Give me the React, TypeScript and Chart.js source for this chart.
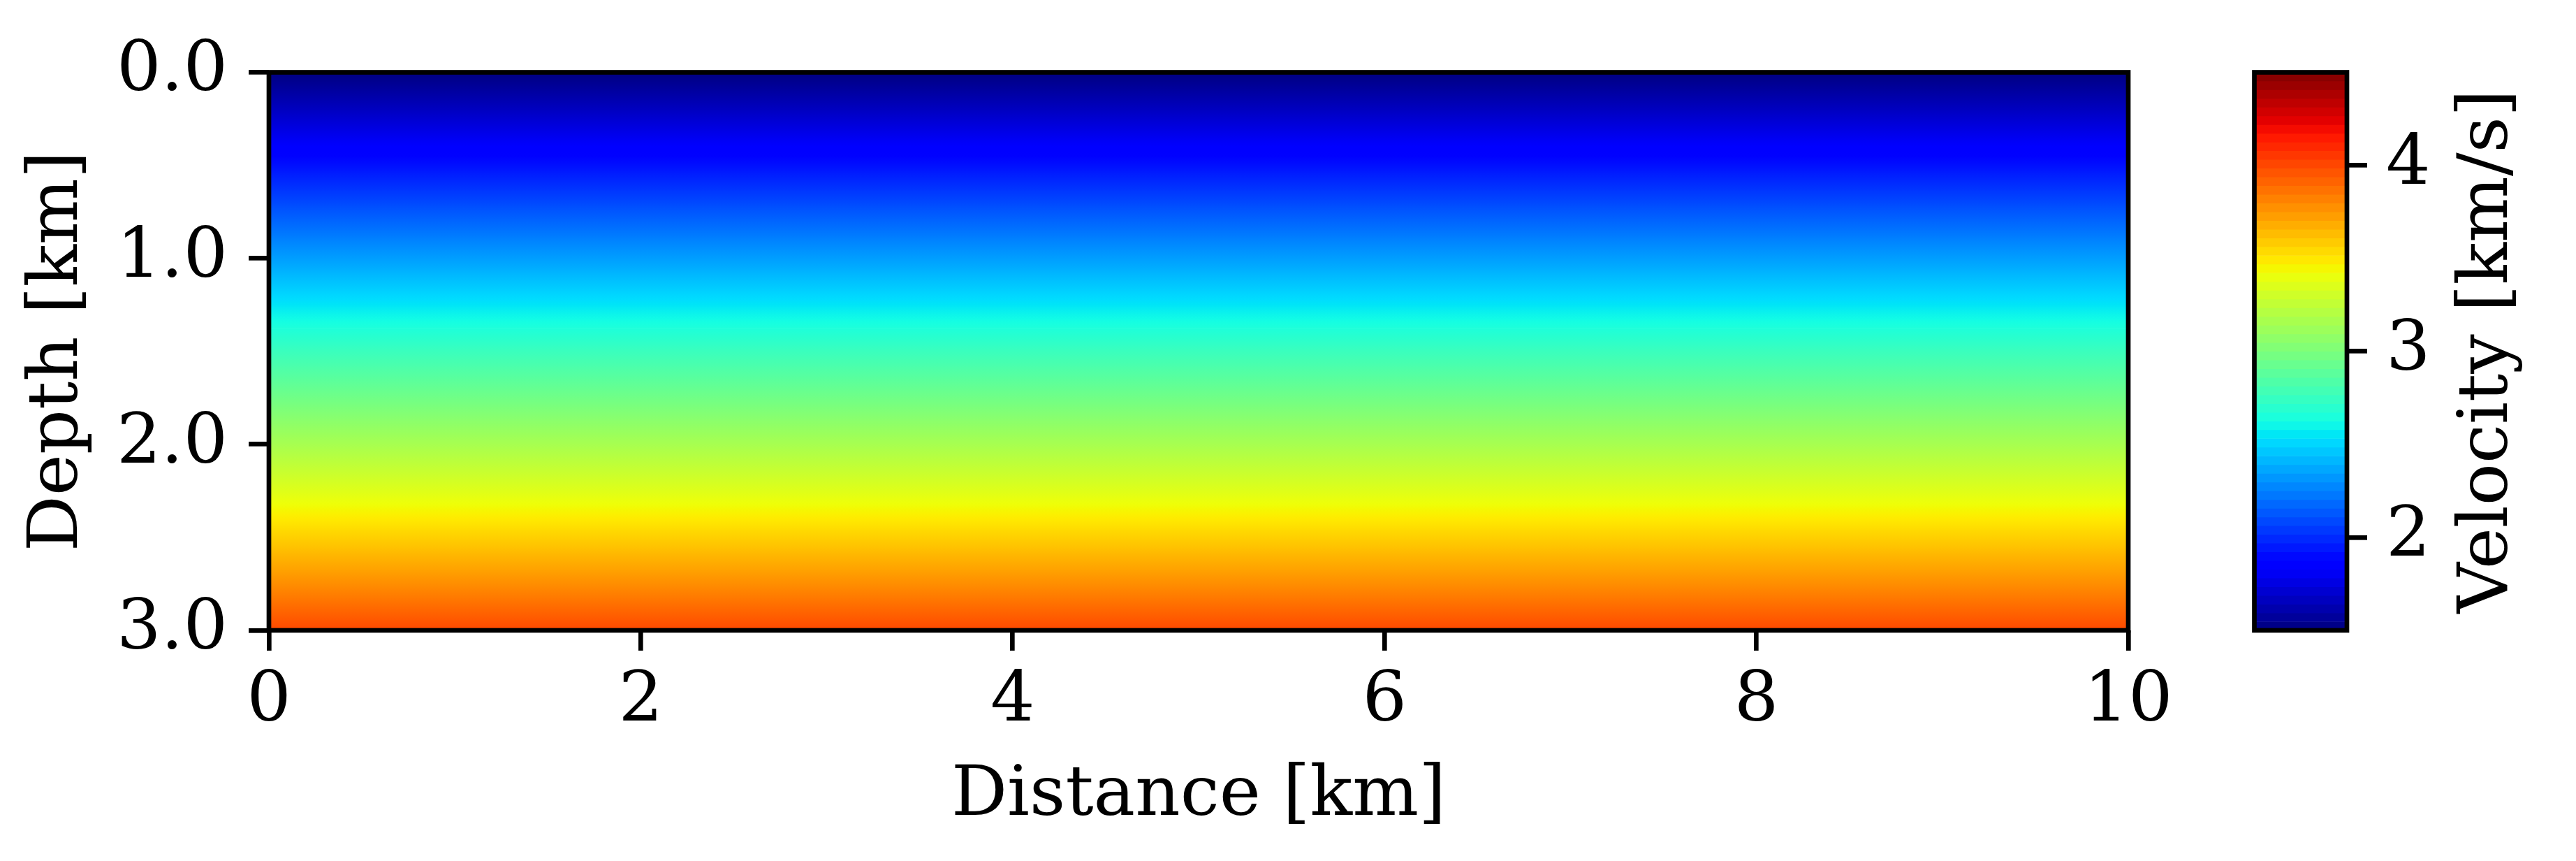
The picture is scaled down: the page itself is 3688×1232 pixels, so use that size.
import React, { useEffect, useRef } from "react";
import { Chart, registerables } from "chart.js";

Chart.register(...registerables);

// ---------------- data ----------------
const distanceKm = [0, 10];
const depthKm = [0, 0.25, 0.5, 0.75, 1.0, 1.25, 1.5, 1.75, 2.0, 2.25, 2.5, 2.75, 3.0];
const velocityKmS = [1.5, 1.71, 1.92, 2.13, 2.34, 2.55, 2.76, 2.96, 3.16, 3.36, 3.57, 3.78, 4.0];
const xTicks = [0, 2, 4, 6, 8, 10];
const yTicks = [0, 1, 2, 3];
const cbTicks = [2, 3, 4];
const vRange = [1.5, 4.5];
const cbLevels = 64;

// ---------------- jet colormap (matplotlib segment data) ----------------
const JET: Record<string, number[][]> = {
  r: [[0, 0], [0.35, 0], [0.66, 1], [0.89, 1], [1, 0.5]],
  g: [[0, 0], [0.125, 0], [0.375, 1], [0.64, 1], [0.91, 0], [1, 0]],
  b: [[0, 0.5], [0.11, 1], [0.34, 1], [0.65, 0], [1, 0]],
};
function segVal(p: number[][], t: number) {
  for (let i = 0; i < p.length - 1; i++) {
    const [x0, y0] = p[i];
    const [x1, y1] = p[i + 1];
    if (t >= x0 && t <= x1) return y0 + ((t - x0) / (x1 - x0 || 1)) * (y1 - y0);
  }
  return p[p.length - 1][1];
}
function jet(t: number) {
  const c = Math.min(1, Math.max(0, t));
  const r = Math.round(segVal(JET.r, c) * 255);
  const g = Math.round(segVal(JET.g, c) * 255);
  const b = Math.round(segVal(JET.b, c) * 255);
  return `rgb(${r},${g},${b})`;
}
const norm = (v: number) => (v - vRange[0]) / (vRange[1] - vRange[0]);

// ---------------- layout constants ----------------
const LW = 6.67;
const TICK = 29;
const FONT = { family: "'DejaVu Serif', serif", size: 100, lineHeight: 1 };
const MAIN_W = 3150;
const H = 1232;
const CB_W = 3688 - MAIN_W;

const framePlugin = {
  id: "frame",
  afterDatasetsDraw(chart: any) {
    const { ctx, chartArea: a } = chart;
    ctx.save();
    ctx.strokeStyle = "#000";
    ctx.lineWidth = LW;
    ctx.lineJoin = "miter";
    ctx.strokeRect(a.left, a.top, a.right - a.left, a.bottom - a.top);
    ctx.restore();
  },
};

const cbLabelPlugin = {
  id: "cbLabel",
  afterDraw(chart: any) {
    const { ctx, chartArea: a } = chart;
    ctx.save();
    ctx.translate(3589 - MAIN_W, (a.top + a.bottom) / 2);
    ctx.rotate(-Math.PI / 2);
    ctx.font = "100px 'DejaVu Serif', serif";
    ctx.fillStyle = "#000";
    ctx.textAlign = "center";
    ctx.textBaseline = "alphabetic";
    ctx.fillText("Velocity [km/s]", 0, 0);
    ctx.restore();
  },
};

function gridOpts() {
  return {
    display: true,
    offset: false,
    drawOnChartArea: false,
    drawTicks: true,
    tickLength: TICK,
    tickWidth: LW,
    tickColor: "#000",
    color: "#000",
    lineWidth: LW,
  };
}

let gradCache: any = null;
function mainGradient(chart: any) {
  const { ctx, chartArea, scales } = chart;
  if (!chartArea) return "#000";
  const key = `${chartArea.top}-${chartArea.bottom}`;
  if (gradCache && gradCache.key === key) return gradCache.g;
  const y = scales.y;
  const p0 = y.getPixelForValue(depthKm[0]);
  const p1 = y.getPixelForValue(depthKm[depthKm.length - 1]);
  const g = ctx.createLinearGradient(0, p0, 0, p1);
  const sub = 10;
  for (let i = 0; i < depthKm.length - 1; i++) {
    for (let s = 0; s < sub; s++) {
      const f = s / sub;
      const z = depthKm[i] + f * (depthKm[i + 1] - depthKm[i]);
      const v = velocityKmS[i] + f * (velocityKmS[i + 1] - velocityKmS[i]);
      g.addColorStop((y.getPixelForValue(z) - p0) / (p1 - p0), jet(norm(v)));
    }
  }
  g.addColorStop(1, jet(norm(velocityKmS[velocityKmS.length - 1])));
  gradCache = { key, g };
  return g;
}

export default function App() {
  const mainRef = useRef<HTMLCanvasElement>(null);
  const cbRef = useRef<HTMLCanvasElement>(null);

  useEffect(() => {
    gradCache = null;
    const main = new Chart(mainRef.current as HTMLCanvasElement, {
      type: "bar",
      data: {
        datasets: [
          {
            data: depthKm.map((z) => ({ x: distanceKm, y: z })) as any,
            backgroundColor: (c: any) => mainGradient(c.chart),
            borderWidth: 0,
            categoryPercentage: 1,
            barPercentage: 1,
            grouped: false,
          } as any,
        ],
      },
      options: {
        indexAxis: "y",
        animation: false,
        responsive: false,
        maintainAspectRatio: false,
        devicePixelRatio: 1,
        events: [],
        layout: { padding: { left: 0, top: 103.5, right: MAIN_W - 3047, bottom: 0 } },
        plugins: { legend: { display: false }, tooltip: { enabled: false } },
        scales: {
          x: {
            type: "linear",
            position: "bottom",
            offset: false,
            min: distanceKm[0],
            max: distanceKm[1],
            afterBuildTicks: (s: any) => {
              s.ticks = xTicks.map((v) => ({ value: v }));
            },
            afterFit: (s: any) => {
              s.height = H - 902;
            },
            grid: gridOpts(),
            border: { display: false },
            ticks: {
              color: "#000",
              font: FONT,
              padding: 24,
              maxRotation: 0,
              autoSkip: false,
              callback: (v: any) => String(v),
            },
            title: {
              display: true,
              text: "Distance [km]",
              color: "#000",
              font: FONT,
              padding: { top: 0, bottom: 42 },
            },
          },
          y: {
            type: "linear",
            position: "left",
            offset: false,
            min: yTicks[0],
            max: yTicks[yTicks.length - 1],
            reverse: true,
            afterBuildTicks: (s: any) => {
              s.ticks = yTicks.map((v) => ({ value: v }));
            },
            afterFit: (s: any) => {
              s.width = 385;
            },
            grid: gridOpts(),
            border: { display: false },
            ticks: {
              color: "#000",
              font: FONT,
              padding: 30,
              autoSkip: false,
              callback: (v: any) => Number(v).toFixed(1),
            },
            title: {
              display: true,
              text: "Depth [km]",
              color: "#000",
              font: FONT,
              padding: { top: 34, bottom: 0 },
            },
          },
        } as any,
      },
      plugins: [framePlugin],
    } as any);

    const step = (vRange[1] - vRange[0]) / cbLevels;
    const levels = Array.from({ length: cbLevels }, (_, k) => vRange[0] + (k + 0.5) * step);
    const cb = new Chart(cbRef.current as HTMLCanvasElement, {
      type: "bar",
      data: {
        datasets: [
          {
            data: levels.map((v) => ({ x: [0, 1], y: v })) as any,
            backgroundColor: levels.map((v) => jet(norm(v))),
            borderWidth: 0,
            categoryPercentage: 1,
            barPercentage: 1,
            grouped: false,
          } as any,
        ],
      },
      options: {
        indexAxis: "y",
        animation: false,
        responsive: false,
        maintainAspectRatio: false,
        devicePixelRatio: 1,
        events: [],
        layout: { padding: { left: 3227.5 - MAIN_W, top: 103.5, right: 0, bottom: H - 902 } },
        plugins: { legend: { display: false }, tooltip: { enabled: false } },
        scales: {
          x: { type: "linear", min: 0, max: 1, display: false, offset: false },
          y: {
            type: "linear",
            position: "right",
            offset: false,
            min: vRange[0],
            max: vRange[1],
            afterBuildTicks: (s: any) => {
              s.ticks = cbTicks.map((v) => ({ value: v }));
            },
            afterFit: (s: any) => {
              s.width = CB_W - (3360 - MAIN_W);
            },
            grid: gridOpts(),
            border: { display: false },
            ticks: {
              color: "#000",
              font: FONT,
              padding: 27,
              autoSkip: false,
              callback: (v: any) => String(v),
            },
          },
        } as any,
      },
      plugins: [framePlugin, cbLabelPlugin],
    } as any);

    return () => {
      main.destroy();
      cb.destroy();
    };
  }, []);

  return (
    <div style={{ position: "absolute", left: 0, top: 0, width: 3688, height: H, background: "#fff" }}>
      <canvas
        ref={mainRef}
        width={MAIN_W}
        height={H}
        style={{ position: "absolute", left: 0, top: 0, width: MAIN_W, height: H }}
      />
      <canvas
        ref={cbRef}
        width={CB_W}
        height={H}
        style={{ position: "absolute", left: MAIN_W, top: 0, width: CB_W, height: H }}
      />
    </div>
  );
}
